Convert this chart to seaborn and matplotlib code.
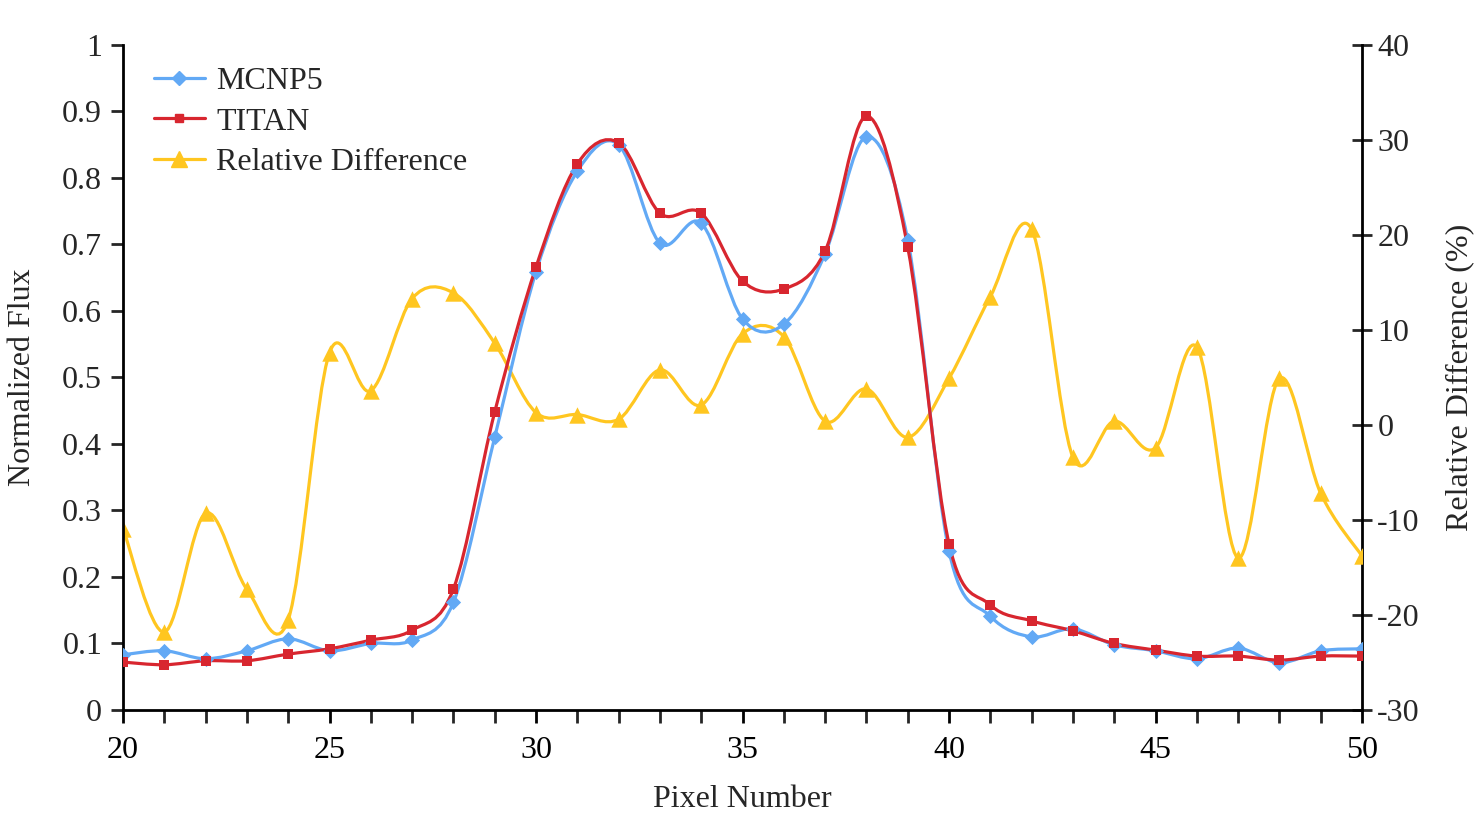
import numpy as np
import pandas as pd
import matplotlib
matplotlib.use("Agg")
import matplotlib.pyplot as plt
from matplotlib.path import Path
from matplotlib.patches import PathPatch
from matplotlib.lines import Line2D
from matplotlib.ticker import FuncFormatter, MultipleLocator
import seaborn as sns

pixels = list(range(20, 51))
mcnp5 = [0.083, 0.089, 0.077, 0.089, 0.107, 0.089, 0.100, 0.105, 0.162, 0.410,
         0.659, 0.810, 0.850, 0.702, 0.732, 0.588, 0.580, 0.686, 0.862, 0.707,
         0.239, 0.141, 0.110, 0.122, 0.098, 0.089, 0.077, 0.093, 0.071, 0.089, 0.092]
titan = [0.072, 0.068, 0.074, 0.074, 0.084, 0.092, 0.105, 0.120, 0.182, 0.448,
         0.666, 0.821, 0.853, 0.747, 0.747, 0.645, 0.633, 0.690, 0.893, 0.696,
         0.250, 0.158, 0.134, 0.119, 0.100, 0.090, 0.081, 0.081, 0.075, 0.081, 0.081]
rel_diff = [-10.9, -21.8, -9.3, -17.3, -20.5, 7.6, 3.6, 13.3, 13.9, 8.6,
            1.3, 1.1, 0.6, 5.8, 2.1, 9.6, 9.3, 0.4, 3.8, -1.3,
            4.9, 13.5, 20.6, -3.4, 0.4, -2.4, 8.2, -14.0, 4.9, -7.2, -13.8]

df = pd.DataFrame({"Pixel": pixels, "MCNP5": mcnp5, "TITAN": titan, "Rel": rel_diff})

BLUE = "#62a9f5"
RED = "#d8262f"
YELLOW = "#ffc620"

sns.set_theme(style="white")
plt.rcParams["font.family"] = ["Liberation Serif", "DejaVu Serif"]
plt.rcParams["axes.unicode_minus"] = False
FS = 23


def smooth_path(xs, ys):
    """Catmull-Rom style smoothing (like Excel's smoothed line) as Bezier path."""
    pts = np.column_stack([xs, ys]).astype(float)
    n = len(pts)
    verts = [pts[0]]
    codes = [Path.MOVETO]
    for i in range(n - 1):
        p0 = pts[i - 1] if i > 0 else pts[i]
        p1 = pts[i]
        p2 = pts[i + 1]
        p3 = pts[i + 2] if i + 2 < n else pts[i + 1]
        c1 = p1 + (p2 - p0) / 6.0
        c2 = p2 - (p3 - p1) / 6.0
        verts += [c1, c2, p2]
        codes += [Path.CURVE4] * 3
    return Path(verts, codes)


fig = plt.figure(figsize=(14.75, 8.17), dpi=100)
ax = fig.add_axes([0.0834, 0.131, 0.84, 0.814])
ax2 = ax.twinx()

LW = 2.3
# Right axis: relative difference
ax2.add_patch(PathPatch(smooth_path(df["Pixel"], df["Rel"]), fill=False,
                        edgecolor=YELLOW, lw=LW, zorder=2))
sns.scatterplot(data=df, x="Pixel", y="Rel", ax=ax2, marker="^", s=140,
                color=YELLOW, edgecolor=YELLOW, linewidth=0, zorder=3, legend=False)

# Left axis: fluxes
ax.add_patch(PathPatch(smooth_path(df["Pixel"], df["MCNP5"]), fill=False,
                       edgecolor=BLUE, lw=LW, zorder=2))
ax.add_patch(PathPatch(smooth_path(df["Pixel"], df["TITAN"]), fill=False,
                       edgecolor=RED, lw=LW, zorder=2))
sns.scatterplot(data=df, x="Pixel", y="MCNP5", ax=ax, marker="D", s=60,
                color=BLUE, edgecolor=BLUE, linewidth=0, zorder=3, legend=False)
sns.scatterplot(data=df, x="Pixel", y="TITAN", ax=ax, marker="s", s=42,
                color=RED, edgecolor=RED, linewidth=0, zorder=4, legend=False)

ax.set_zorder(ax2.get_zorder() + 1)
ax.patch.set_visible(False)

ax.set_xlim(20, 50)
ax.set_ylim(0, 1)
ax2.set_ylim(-30, 40)

ax.xaxis.set_major_locator(MultipleLocator(5))
ax.xaxis.set_minor_locator(MultipleLocator(1))
ax.yaxis.set_major_locator(MultipleLocator(0.1))
ax2.yaxis.set_major_locator(MultipleLocator(10))
ax.yaxis.set_major_formatter(FuncFormatter(lambda v, p: f"{v:.1f}".rstrip("0").rstrip(".") if abs(v) > 1e-9 else "0"))

for a in (ax, ax2):
    for s in a.spines.values():
        s.set_color("black")
        s.set_linewidth(2)
    a.spines["top"].set_visible(False)
ax.spines["right"].set_visible(False)
ax2.spines["left"].set_visible(False)
ax2.spines["bottom"].set_visible(False)

ax.tick_params(axis="x", which="major", direction="out", length=9, width=2,
               labelsize=FS, pad=10, bottom=True, colors="black")
ax.tick_params(axis="x", which="minor", direction="out", length=9, width=2, bottom=True)
ax.tick_params(axis="y", which="major", direction="out", length=9, width=2,
               labelsize=FS, pad=6, left=True)
ax2.tick_params(axis="y", which="major", direction="inout", length=14, width=2,
                labelsize=FS, pad=4, right=True)

ax.set_xlabel("Pixel Number", fontsize=FS, labelpad=14)
ax.set_ylabel("Normalized Flux", fontsize=FS, labelpad=18)
ax2.set_ylabel("Relative Difference (%)", fontsize=FS, labelpad=18)

ax.grid(False)
ax2.grid(False)

handles = [
    Line2D([], [], color=BLUE, lw=LW, marker="D", markersize=7, label="MCNP5"),
    Line2D([], [], color=RED, lw=LW, marker="s", markersize=6, label="TITAN"),
    Line2D([], [], color=YELLOW, lw=LW, marker="^", markersize=11, label="Relative Difference"),
]
ax.legend(handles=handles, loc="upper left", bbox_to_anchor=(0.0145, 0.987),
          frameon=False, fontsize=FS, handlelength=1.6, handletextpad=0.35,
          labelspacing=0.36, borderaxespad=0)

fig.savefig("out.png", dpi=100)
